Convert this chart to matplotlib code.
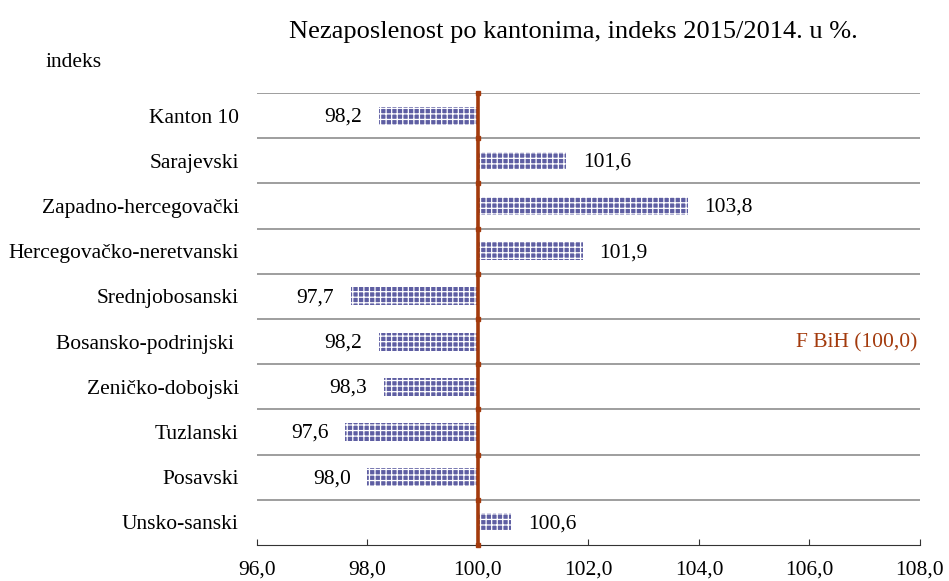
import numpy as np
import matplotlib
matplotlib.use('Agg')
import matplotlib.pyplot as plt

plt.rcParams['font.family'] = ['Liberation Serif', 'DejaVu Serif']
plt.rcParams['hatch.color'] = 'white'
plt.rcParams['hatch.linewidth'] = 0.9

cantons = ['Kanton 10', 'Sarajevski', 'Zapadno-hercegovački',
           'Hercegovačko-neretvanski', 'Srednjobosanski', 'Bosansko-podrinjski ',
           'Zeničko-dobojski', 'Tuzlanski', 'Posavski', 'Unsko-sanski']
index = [98.2, 101.6, 103.8, 101.9, 97.7, 98.2, 98.3, 97.6, 98.0, 100.6]
fbih = 100.0

red = '#a33a0c'
bar_col = '#5e5ea2'
fs = 15.5

fig = plt.figure(figsize=(9.49, 5.81), dpi=100)
ax = fig.add_axes([0.2708, 0.062, 0.6986, 0.778])

n = len(cantons)
y = np.arange(n)[::-1]

# bars drawn from the F BiH base
for yi, v in zip(y, index):
    ax.barh(yi, v - fbih, left=fbih, height=0.4, color=bar_col,
            hatch='+++', lw=0, zorder=2)
    lbl = f'{v:.1f}'.replace('.', ',')
    if v >= fbih:
        ax.annotate(lbl, (v, yi), xytext=(12, -1), textcoords='offset points',
                    ha='left', va='center', fontsize=fs)
    else:
        ax.annotate(lbl, (v, yi), xytext=(-12, -1), textcoords='offset points',
                    ha='right', va='center', fontsize=fs)

# category separators
for b in np.arange(n + 1) - 0.5:
    if b > -0.5:
        ax.axhline(b, color='#969696', lw=1.3, zorder=1)

# F BiH reference line
ax.plot([fbih] * (n + 1), np.arange(n + 1) - 0.5, color=red, lw=2.6,
        marker='s', ms=3.5, zorder=3, clip_on=False)
ax.text(107.95, 3.97, 'F BiH (100,0)', color=red, fontsize=fs,
        ha='right', va='center')

ax.set_xlim(96, 108)
ax.set_ylim(-0.5, n - 0.5)
ticks = np.arange(96, 109, 2)
ax.set_xticks(ticks)
ax.set_xticklabels([f'{t:.1f}'.replace('.', ',') for t in ticks], fontsize=fs)
ax.set_yticks(y)
ax.set_yticklabels(cantons, fontsize=fs)
ax.tick_params(axis='y', length=0, pad=13)
ax.tick_params(axis='x', direction='in', length=4, pad=11, color='#333333')
for s in ['left', 'right', 'top']:
    ax.spines[s].set_visible(False)
ax.spines['bottom'].set_color('#333333')

fig.text(0.604, 0.945, 'Nezaposlenost po kantonima, indeks 2015/2014. u %.',
         ha='center', va='center', fontsize=19)
fig.text(0.048, 0.893, 'indeks', ha='left', va='center', fontsize=fs)

fig.savefig('out.png', dpi=100)
